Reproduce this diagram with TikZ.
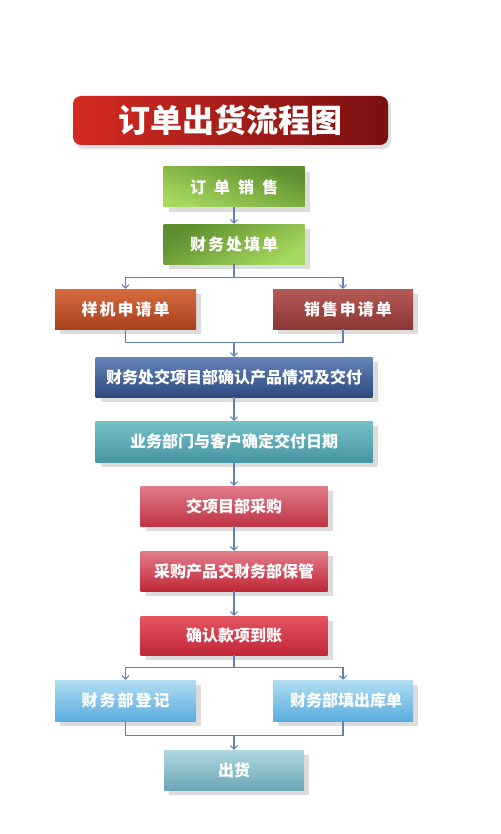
\documentclass[tikz,border=0pt]{standalone}
\usepackage{fontspec}
\setmainfont{Noto Sans CJK SC}
\usetikzlibrary{arrows.meta,shadows}
\definecolor{conn}{HTML}{5F84B4}
\definecolor{grA}{HTML}{5E8E2E}\definecolor{grB}{HTML}{A6D85E}
\definecolor{orA}{HTML}{D66C40}\definecolor{orB}{HTML}{A8401E}
\definecolor{brA}{HTML}{B65A56}\definecolor{brB}{HTML}{8A3634}
\definecolor{nvA}{HTML}{6684B8}\definecolor{nvB}{HTML}{2C4A7E}
\definecolor{tlA}{HTML}{74C0C8}\definecolor{tlB}{HTML}{4896A4}
\definecolor{pkA}{HTML}{E27C8A}\definecolor{pkB}{HTML}{BE3444}
\definecolor{rdA}{HTML}{E65460}\definecolor{rdB}{HTML}{C0283A}
\definecolor{lbA}{HTML}{B2DEF0}\definecolor{lbB}{HTML}{5AACE0}
\definecolor{cyA}{HTML}{B0D8E0}\definecolor{cyB}{HTML}{6AA6B6}
\definecolor{ttA}{HTML}{D42A22}\definecolor{ttB}{HTML}{7A1010}
\newcommand{\gapp}{\hspace{8pt}}
\newcommand{\gaps}{\hspace{2pt}}
\tikzset{
  box/.style={draw=none, minimum height=40pt, text=white, font=\bfseries\fontsize{16}{16}\selectfont, inner sep=0pt,
    drop shadow={shadow xshift=5pt, shadow yshift=-5pt, fill=black!30, opacity=0.45}},
  arr/.style={draw=conn, line width=1.1pt, -{Straight Barb[length=3.5pt,width=7pt,line width=1pt]}},
  ln/.style={draw=conn, line width=1.1pt}
}
\begin{document}
\begin{tikzpicture}[x=1pt,y=-1pt]
\useasboundingbox (0,0) rectangle (500,834);
\fill[white] (0,0) rectangle (500,834);
% title
\node[draw=none, rounded corners=8pt, left color=ttA, right color=ttB, minimum width=315pt, minimum height=49pt,
  drop shadow={shadow xshift=3pt, shadow yshift=-4pt, fill=black!30, opacity=0.4},
  text=white, font=\bfseries\fontsize{32}{32}\selectfont] (title) at (230.5,120.5) {订单出货流程图};
% nodes
\node[box, minimum width=141pt, top color=grA, bottom color=grB, shading angle=-20] (n1) at (234,187) {订\gapp 单\gapp 销\gapp 售};
\node[box, minimum width=141pt, top color=grA, bottom color=grB, shading angle=30] (n2) at (234,244) {财\gaps 务\gaps 处\gaps 填\gaps 单};
\node[box, minimum width=141pt, top color=orA, bottom color=orB] (n3) at (125.5,309) {样\gaps 机\gaps 申\gaps 请\gaps 单};
\node[box, minimum width=140pt, top color=brA, bottom color=brB] (n4) at (343,309) {\hspace{10pt}销\gaps 售\gaps 申\gaps 请\gaps 单};
\node[box, minimum width=277pt, top color=nvA, bottom color=nvB] (n5) at (234,377) {财务处交项目部确认产品情况及交付};
\node[box, minimum width=277pt, minimum height=41pt, top color=tlA, bottom color=tlB] (n6) at (234,441.5) {业务部门与客户确定交付日期};
\node[box, minimum width=187pt, top color=pkA, bottom color=pkB] (n7) at (234,506) {交项目部采购};
\node[box, minimum width=187pt, top color=pkA, bottom color=rdB] (n8) at (234,571) {采购产品交财务部保管};
\node[box, minimum width=187pt, minimum height=39pt, top color=rdA, bottom color=rdB] (n9) at (234,635.5) {确认款项到账};
\node[box, minimum width=141pt, minimum height=41pt, top color=lbA, bottom color=lbB] (n10) at (125.5,700.5) {财\gaps 务\gaps 部\gaps 登\gaps 记};
\node[box, minimum width=140pt, minimum height=41pt, top color=lbA, bottom color=lbB] (n11) at (343,700.5) {\hspace{6pt}财务部填出库单};
\node[box, minimum width=140pt, top color=cyA, bottom color=cyB] (n12) at (234,770) {出货};
% connectors
\draw[arr] (n1.south) -- (n2.north);
\draw[arr] (n2.south) -- ++(0,13) -| (n3.north);
\draw[arr] (n2.south) -- ++(0,13) -| (n4.north);
\draw[ln] (n3.south) -- ++(0,13) -| (n4.south);
\coordinate (m1) at (n5.north |- 0,342);
\draw[arr] (m1) -- (n5.north);
\draw[arr] (n5.south) -- (n6.north);
\draw[arr] (n6.south) -- (n7.north);
\draw[arr] (n7.south) -- (n8.north);
\draw[arr] (n8.south) -- (n9.north);
\draw[arr] (n9.south) -- ++(0,12) -| (n10.north);
\draw[arr] (n9.south) -- ++(0,12) -| (n11.north);
\draw[ln] (n10.south) -- ++(0,14) -| (n11.south);
\coordinate (m2) at (n12.north |- 0,735);
\draw[arr] (m2) -- (n12.north);
\end{tikzpicture}
\end{document}
